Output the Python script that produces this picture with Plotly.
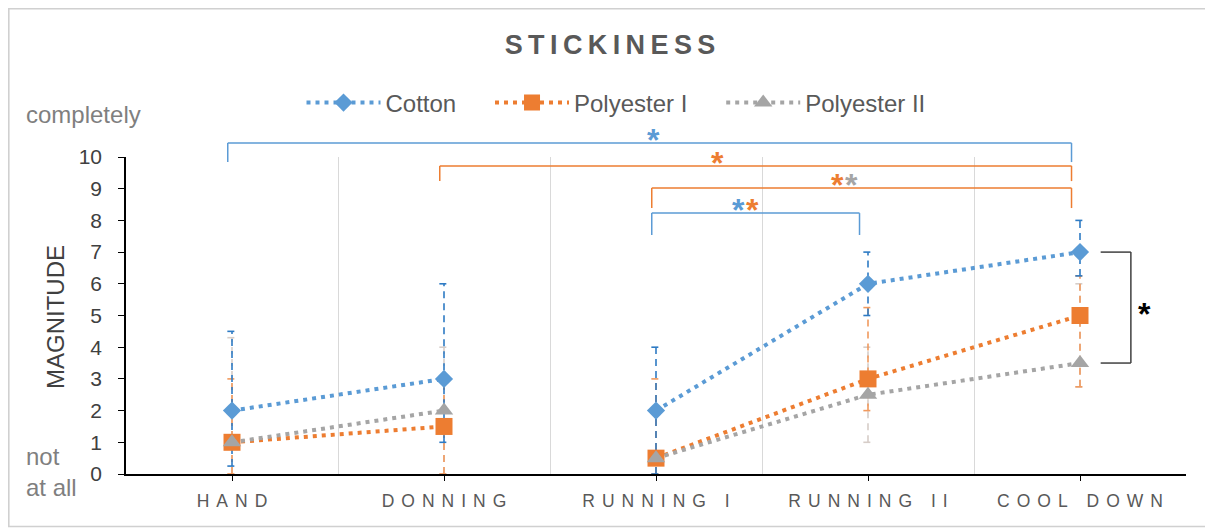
import plotly.graph_objects as go

# ---------------- data ----------------
categories = ["HAND", "DONNING", "RUNNING I", "RUNNING II", "COOL DOWN"]
gap_after = "DONNING"  # lines are not connected between DONNING and RUNNING I

cotton = [2, 3, 2, 6, 7]
cotton_lo = [0.25, 1.0, 0.0, 5.0, 6.25]
cotton_hi = [4.5, 6.0, 4.0, 7.0, 8.0]

poly1 = [1, 1.5, 0.5, 3, 5]
poly1_lo = [0.0, 0.0, 0.0, 2.0, 2.75]
poly1_hi = [3.0, 3.0, 3.0, 5.25, 6.25]

poly2 = [1, 2, 0.5, 2.5, 3.5]
poly2_lo = [0.0, 0.0, 0.0, 1.0, 2.75]
poly2_hi = [4.3, 4.0, 2.0, 4.0, 6.0]

y_ticks = list(range(0, 11))

# significance brackets: (from category, to category, top value, end value, colour, star colours)
brackets = [
    ("HAND", "COOL DOWN", 10.44, 9.84, "#5B9BD5", ["#5B9BD5"]),
    ("DONNING", "COOL DOWN", 9.72, 9.24, "#ED7D31", ["#ED7D31"]),
    ("RUNNING I", "COOL DOWN", 9.02, 8.39, "#ED7D31", ["#ED7D31", "#A5A5A5"]),
    ("RUNNING I", "RUNNING II", 8.23, 7.54, "#5B9BD5", ["#5B9BD5", "#ED7D31"]),
]
star_pos = {0: 0.504, 1: 0.44, 2: 0.48, 3: 0.45}

XMIN, XMAX = -0.5, len(categories) - 0.5
YMIN, YMAX = 0, 10

W, H = 1205, 521
ML, MR, MT, MB = 118, 27, 149, 55
PW, PH = W - ML - MR, H - MT - MB


def xd(i):
    return (i - XMIN) / (XMAX - XMIN)


def yd(v):
    return (v - YMIN) / (YMAX - YMIN)


def px_x(fx):  # figure pixel -> paper x
    return (fx - ML) / PW


def px_y(fy):  # figure pixel (from top) -> paper y
    return (H - MB - fy) / PH


idx = {c: i for i, c in enumerate(categories)}
gap_i = idx[gap_after]


def with_gap(vals):
    xs, ys = [], []
    for i, v in enumerate(vals):
        xs.append(i)
        ys.append(v)
        if i == gap_i:
            xs.append(None)
            ys.append(None)
    return xs, ys


fig = go.Figure()

# ---------------- error bars (dashed) ----------------
CAP = 0.022


def add_err(lo, hi, color, width=1.6):
    xs, ys = [], []
    for i in range(len(categories)):
        xs += [i, i, None, i - CAP, i + CAP, None, i - CAP, i + CAP, None]
        ys += [lo[i], hi[i], None, lo[i], lo[i], None, hi[i], hi[i], None]
    fig.add_trace(go.Scatter(x=xs, y=ys, mode="lines", showlegend=False,
                             hoverinfo="skip",
                             line=dict(color=color, width=width, dash="7px,5px")))


add_err(poly2_lo, poly2_hi, "#D6CDC8")
add_err(poly1_lo, poly1_hi, "#F19A5E")
add_err(cotton_lo, cotton_hi, "#2E7BC4")

# ---------------- series ----------------
PAD = "\u2003\u2009"  # spacing after a legend entry
series = [
    ("Cotton", cotton, "#5B9BD5", "diamond", 14, PAD),
    ("Polyester I", poly1, "#ED7D31", "square", 17, PAD),
    ("Polyester II", poly2, "#A5A5A5", "triangle-up", 16, ""),
]
for name, vals, color, sym, size, pad in series:
    xs, ys = with_gap(vals)
    fig.add_trace(go.Scatter(
        x=xs, y=ys, name=name + pad, mode="lines+markers",
        line=dict(color=color, width=4, dash="4px,5px"),
        marker=dict(symbol=sym, size=size, color=color, line=dict(width=0)),
    ))

# ---------------- brackets ----------------
shapes = []
annotations = []
STAR = dict(size=32, family="Liberation Sans")
for k, (a, b, top, end, col, stars) in enumerate(brackets):
    x0 = xd(idx[a]) - 0.004
    x1 = xd(idx[b]) - 0.008
    for (ax0, ay0, ax1, ay1) in [(x0, end, x0, top), (x0, top, x1, top), (x1, top, x1, end)]:
        shapes.append(dict(type="line", xref="x domain", yref="y domain",
                           x0=ax0, y0=yd(ay0), x1=ax1, y1=yd(ay1),
                           line=dict(color=col, width=1.5)))
    xm = x0 + (x1 - x0) * star_pos[k]
    n = len(stars)
    for j, sc in enumerate(stars):
        off = (j - (n - 1) / 2) * 0.0135
        annotations.append(dict(xref="x domain", yref="y domain", x=xm + off, y=yd(top),
                                text="<b>*</b>", showarrow=False, yanchor="bottom",
                                yshift=-17, font=dict(color=sc, **STAR)))

# black bracket between Cotton and Polyester II at COOL DOWN
ci = idx["COOL DOWN"]
bx0 = xd(ci) + 0.0195
bx1 = xd(ci) + 0.048
for (ax0, ay0, ax1, ay1) in [(bx0, cotton[ci], bx1, cotton[ci]),
                             (bx1, cotton[ci], bx1, poly2[ci]),
                             (bx0, poly2[ci], bx1, poly2[ci])]:
    shapes.append(dict(type="line", xref="x domain", yref="y domain",
                       x0=ax0, y0=yd(ay0), x1=ax1, y1=yd(ay1),
                       line=dict(color="#404040", width=1.5)))
annotations.append(dict(xref="x domain", yref="y domain", x=bx1 + 0.021,
                        y=yd((cotton[ci] + poly2[ci]) / 2),
                        text="<b>*</b>", showarrow=False, yanchor="middle", yshift=-6,
                        font=dict(color="#000000", **STAR)))

# outer border
shapes.append(dict(type="rect", xref="paper", yref="paper",
                   x0=px_x(0.8), y0=px_y(518.5), x1=px_x(1199), y1=px_y(0.8),
                   line=dict(color="#D0D0D0", width=1.6), layer="below"))

# side labels
annotations += [
    dict(xref="paper", yref="paper", x=px_x(16), y=px_y(107), xanchor="left",
         yanchor="middle", text="completely", showarrow=False,
         font=dict(size=24, color="#7F7F7F", family="Liberation Sans")),
    dict(xref="paper", yref="paper", x=px_x(16), y=px_y(464), xanchor="left",
         yanchor="middle", text="not<br>at all", showarrow=False, align="left",
         font=dict(size=24, color="#7F7F7F", family="Liberation Sans")),
    dict(xref="paper", yref="paper", x=px_x(47), y=px_y(309), xanchor="center",
         yanchor="middle", text="MAGNITUDE", textangle=-90, showarrow=False,
         font=dict(size=24, color="#404040", family="Liberation Sans")),
]

SP = "\u2009"


def spaced(s, n=1):
    return (SP * n).join(list(s))


fig.update_layout(
    width=W, height=H,
    margin=dict(l=ML, r=MR, t=MT, b=MB),
    paper_bgcolor="white", plot_bgcolor="white",
    font=dict(family="Liberation Sans", color="#595959"),
    title=dict(text="<b>" + spaced("STICKINESS") + "</b>", x=602 / W, xanchor="center",
               y=1 - 37 / H, yanchor="middle",
               font=dict(size=27, color="#595959", family="Liberation Sans")),
    legend=dict(orientation="h", x=px_x(608), xanchor="center", y=px_y(95),
                yanchor="middle", font=dict(size=24, color="#595959"), itemwidth=74,
                bgcolor="rgba(0,0,0,0)", traceorder="normal"),
    shapes=shapes,
    annotations=annotations,
    showlegend=True,
)
fig.update_xaxes(
    range=[XMIN, XMAX], tickvals=list(range(len(categories))),
    ticktext=[spaced(c, 2) for c in categories],
    showgrid=False, zeroline=False,
    showline=True, linecolor="#000000", linewidth=1.5,
    ticks="outside", ticklen=5, tickcolor="#000000",
    tickfont=dict(size=17.5, color="#595959"), ticklabelstandoff=5,
    minor=dict(tickvals=[i + 0.5 for i in range(len(categories))], showgrid=True,
               gridcolor="#D9D9D9", gridwidth=1.2, ticks=""),
)
fig.update_yaxes(
    range=[YMIN, YMAX], tickvals=y_ticks,
    showgrid=False, zeroline=False,
    showline=True, linecolor="#000000", linewidth=1.5,
    ticks="outside", ticklen=6, tickcolor="#000000",
    tickfont=dict(size=21, color="#404040"), ticklabelstandoff=12,
)

fig.write_html("out.html")
